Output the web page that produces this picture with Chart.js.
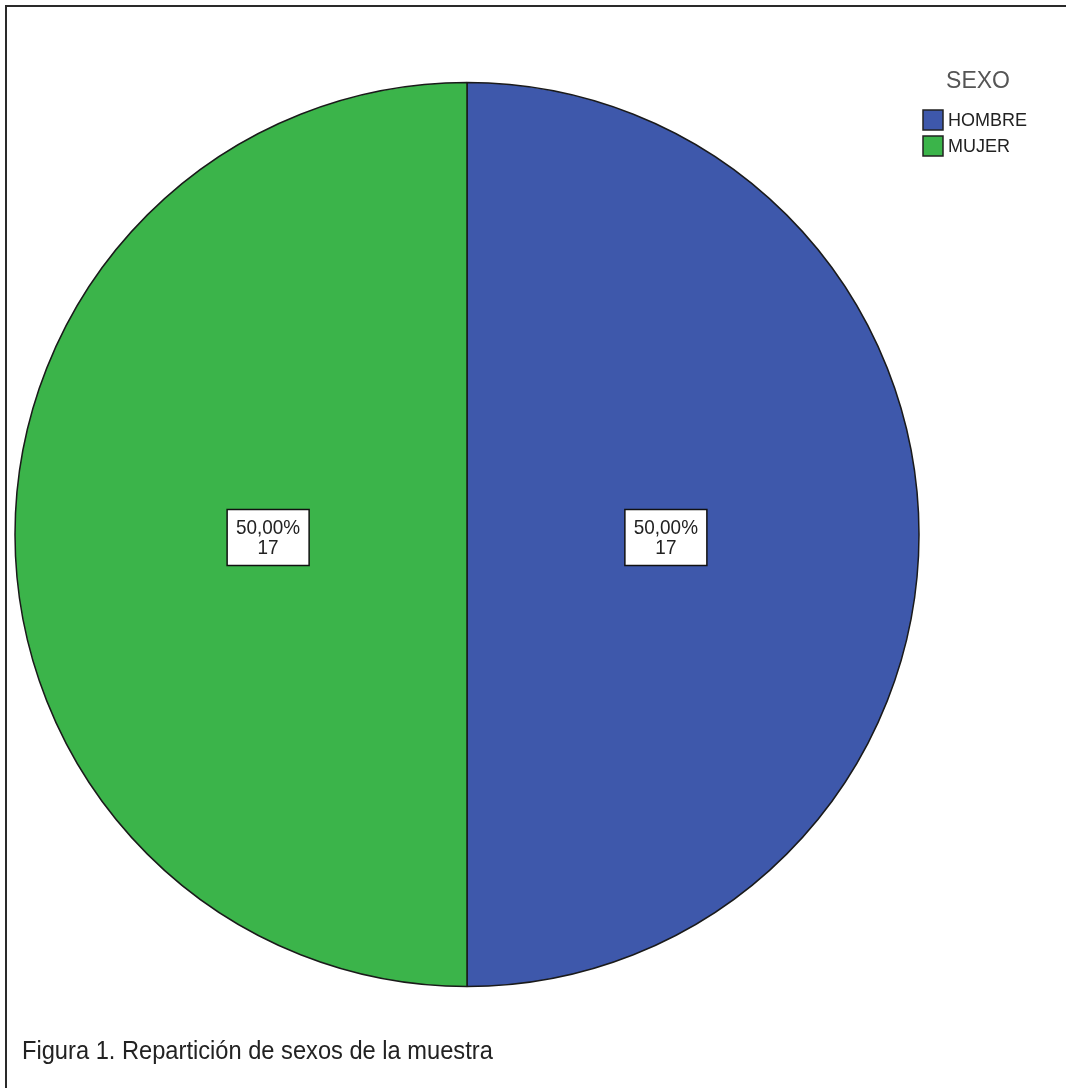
<!DOCTYPE html>
<html lang="es">
<head>
  <meta charset="UTF-8" />
  <title>Repartición de sexos de la muestra</title>
  <script src="https://cdn.jsdelivr.net/npm/chart.js"></script>
  <style>
    html, body {
      margin: 0;
      padding: 0;
      background: #fff;
      width: 1066px;
      height: 1088px;
      overflow: hidden;
    }
    #chart {
      position: absolute;
      left: 0;
      top: 0;
    }
    #frame {
      position: absolute;
      left: 5px;
      top: 5px;
      width: 1070px;
      height: 1100px;
      border-top: 2px solid #2a2a2a;
      border-left: 2px solid #2a2a2a;
      pointer-events: none;
    }
    #caption {
      position: absolute;
      left: 22px;
      top: 1035px;
      font-family: "Liberation Sans", Arial, sans-serif;
      font-size: 26px;
      color: #222;
      white-space: nowrap;
      transform: scaleX(0.91);
      transform-origin: left top;
    }
  </style>
</head>
<body>
  <canvas id="chart" width="1066" height="1088"></canvas>
  <div id="frame"></div>
  <div id="caption">Figura 1. Repartición de sexos de la muestra</div>

  <script>
    // datos
    const legendTitle = 'SEXO';
    const categories = ['HOMBRE', 'MUJER'];
    const counts = [17, 17];
    const percentLabels = ['50,00%', '50,00%'];
    const colors = ['#3e58ab', '#3bb44a'];

    // etiquetas dentro de cada sector + leyenda a la derecha
    const spssLabels = {
      id: 'spssLabels',
      afterDraw(chart) {
        const ctx = chart.ctx;
        const arcs = chart.getDatasetMeta(0).data;
        ctx.save();
        ctx.textAlign = 'center';
        ctx.textBaseline = 'middle';
        arcs.forEach((arc, i) => {
          const p = arc.getProps(['x', 'y', 'startAngle', 'endAngle', 'outerRadius'], true);
          const mid = (p.startAngle + p.endAngle) / 2;
          const r = p.outerRadius * 0.44;
          const cx = p.x + Math.cos(mid) * r;
          const cy = p.y + Math.sin(mid) * r + 3;
          const w = 82, h = 56;
          ctx.fillStyle = '#fff';
          ctx.fillRect(cx - w / 2, cy - h / 2, w, h);
          ctx.strokeStyle = '#111';
          ctx.lineWidth = 1.5;
          ctx.strokeRect(cx - w / 2, cy - h / 2, w, h);
          ctx.fillStyle = '#222';
          ctx.save();
          ctx.translate(cx, cy);
          ctx.scale(0.9, 1);
          ctx.font = '21px "Liberation Sans", Arial, sans-serif';
          ctx.fillText(percentLabels[i], 0, -9);
          ctx.fillText(String(counts[i]), 0, 11);
          ctx.restore();
        });

        // leyenda
        ctx.fillStyle = '#555';
        ctx.font = '23px "Liberation Sans", Arial, sans-serif';
        ctx.textAlign = 'center';
        ctx.fillText(legendTitle, 978, 82);
        ctx.font = '18px "Liberation Sans", Arial, sans-serif';
        ctx.textAlign = 'left';
        categories.forEach((c, i) => {
          const y = 110 + i * 26;
          ctx.fillStyle = colors[i];
          ctx.fillRect(923, y, 20, 20);
          ctx.strokeStyle = '#222';
          ctx.lineWidth = 1.5;
          ctx.strokeRect(923, y, 20, 20);
          ctx.fillStyle = '#222';
          ctx.fillText(c, 948, y + 11);
        });
        ctx.restore();
      }
    };

    const ctx = document.getElementById('chart').getContext('2d');
    new Chart(ctx, {
      type: 'pie',
      data: {
        labels: categories,
        datasets: [{
          data: counts,
          backgroundColor: colors,
          borderColor: '#1a1a1a',
          borderWidth: 1.5
        }]
      },
      options: {
        responsive: false,
        animation: false,
        radius: 452,
        layout: {
          padding: { left: 14, top: 82, right: 146, bottom: 101 }
        },
        plugins: {
          legend: { display: false },
          tooltip: { enabled: false }
        }
      },
      plugins: [spssLabels]
    });
  </script>
</body>
</html>
